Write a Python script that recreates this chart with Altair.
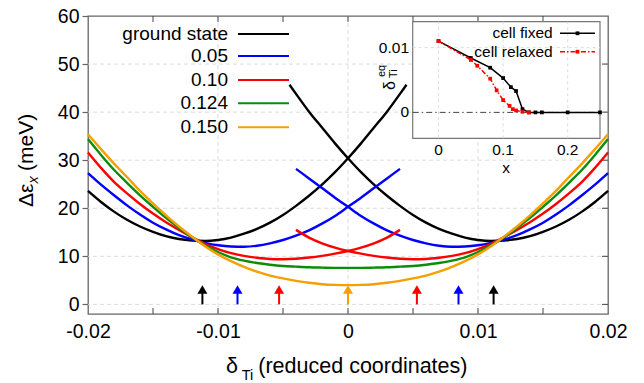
import altair as alt
import pandas as pd

FONT = "Liberation Sans"

# ---------------- main panel data ----------------
xL = [-0.020, -0.019, -0.018, -0.017, -0.016, -0.015, -0.014, -0.013, -0.012, -0.011,
      -0.010, -0.009, -0.008, -0.007, -0.006, -0.005, -0.004, -0.003, -0.002, -0.001,
      0.000, 0.001, 0.002, 0.003, 0.004]
xR = [-0.004, -0.003, -0.002, -0.001, 0.000, 0.001, 0.002, 0.003, 0.004, 0.005,
      0.006, 0.007, 0.008, 0.009, 0.010, 0.011, 0.012, 0.013, 0.014, 0.015,
      0.016, 0.017, 0.018, 0.019, 0.020]
xFull = [-0.020, -0.019, -0.018, -0.017, -0.016, -0.015, -0.014, -0.013, -0.012, -0.011,
         -0.010, -0.009, -0.008, -0.007, -0.006, -0.005, -0.004, -0.003, -0.002, -0.001,
         0.000, 0.001, 0.002, 0.003, 0.004, 0.005, 0.006, 0.007, 0.008, 0.009, 0.010,
         0.011, 0.012, 0.013, 0.014, 0.015, 0.016, 0.017, 0.018, 0.019, 0.020]

black_L_x = xL + [0.0045]
black_L_y = [23.6, 21.3, 19.3, 17.6, 16.2, 15.1, 14.2, 13.6, 13.3, 13.2, 13.4, 13.9, 14.7,
             15.7, 17.0, 18.6, 20.5, 22.6, 24.9, 27.5, 30.4, 33.5, 36.8, 40.1, 43.8, 45.7]
black_R_x = [-0.0045] + xR
black_R_y = [45.7, 43.8, 40.1, 36.8, 33.5, 30.4, 27.5, 24.9, 22.6, 20.5, 18.6, 17.0, 15.7,
             14.7, 13.9, 13.4, 13.2, 13.3, 13.6, 14.2, 15.1, 16.2, 17.6, 19.3, 21.3, 23.6]

blue_L_y = [27.3, 24.9, 22.7, 20.6, 18.7, 17.0, 15.6, 14.4, 13.5, 12.8, 12.3, 12.05, 12.0,
            12.2, 12.7, 13.4, 14.3, 15.4, 16.8, 18.4, 20.3, 22.2, 24.2, 26.2, 28.2]
blue_R_y = [28.2, 26.2, 24.2, 22.2, 20.3, 18.4, 16.8, 15.4, 14.3, 13.4, 12.7, 12.2, 12.0,
            12.05, 12.3, 12.8, 13.5, 14.4, 15.6, 17.0, 18.7, 20.6, 22.7, 24.9, 27.3]

red_L_y = [31.6, 28.4, 25.5, 23.1, 20.9, 18.9, 17.1, 15.5, 14.0, 12.6, 11.5, 10.65, 10.1,
           9.7, 9.45, 9.4, 9.5, 9.75, 10.1, 10.55, 11.1, 11.8, 12.7, 13.9, 15.5]
red_R_y = [15.5, 13.9, 12.7, 11.8, 11.1, 10.55, 10.1, 9.75, 9.5, 9.4, 9.45, 9.7, 10.1,
           10.65, 11.5, 12.6, 14.0, 15.5, 17.1, 18.9, 20.9, 23.1, 25.5, 28.4, 31.6]

green_y = [34.4, 31.1, 28.0, 25.3, 22.7, 20.3, 18.0, 15.9, 13.9, 12.3, 10.9, 9.8, 9.1, 8.6,
           8.25, 8.0, 7.85, 7.72, 7.65, 7.6, 7.6, 7.6, 7.65, 7.72, 7.85, 8.0, 8.25, 8.6, 9.1,
           9.8, 10.9, 12.3, 13.9, 15.9, 18.0, 20.3, 22.7, 25.3, 28.0, 31.1, 34.4]

orange_y = [35.4, 32.3, 29.3, 26.5, 23.6, 21.0, 18.5, 16.2, 14.1, 12.1, 10.4, 9.0, 7.8, 6.8,
            6.0, 5.4, 4.9, 4.5, 4.2, 4.05, 4.0, 4.05, 4.2, 4.5, 4.9, 5.4, 6.0, 6.8, 7.8, 9.0,
            10.4, 12.1, 14.1, 16.2, 18.5, 21.0, 23.6, 26.5, 29.3, 32.3, 35.4]

legend_labels = ["ground state", "0.05", "0.10", "0.124", "0.150"]
BLACK, BLUE, RED, GREEN, ORANGE = "#000000", "#0000ff", "#ff0000", "#0b8c0b", "#f5a000"
legend_colors = [BLACK, BLUE, RED, GREEN, ORANGE]

arrow_x = [-0.0112, -0.0085, -0.0053, 0.0, 0.0053, 0.0085, 0.0112]
arrow_c = [BLACK, BLUE, RED, ORANGE, RED, BLUE, BLACK]
arrow_top = 3.0
arrow_head = 3.1

x_ticks = [-0.02, -0.01, 0, 0.01, 0.02]
x_minor = [-0.015, -0.01, -0.005, 0, 0.005, 0.01, 0.015]
x_grid = [-0.01, 0, 0.01]
y_ticks = [0, 10, 20, 30, 40, 50, 60]
y_grid = [0, 10, 20, 30, 40, 50]

# ---------------- inset data ----------------
fixed_x = [0.0, 0.05, 0.08, 0.10, 0.112, 0.12, 0.13, 0.14, 0.15, 0.16, 0.20, 0.25]
fixed_y = [0.0110, 0.0084, 0.0069, 0.0053, 0.0039, 0.0033, 0.0005, 0.0, 0.0, 0.0, 0.0, 0.0]
relax_x = [0.0, 0.05, 0.06, 0.08, 0.09, 0.10, 0.11, 0.115, 0.12, 0.13, 0.14]
relax_y = [0.0110, 0.0081, 0.0072, 0.0052, 0.0034, 0.0019, 0.0010, 0.0005, 0.0003, 0.0001, 0.0]
inset_xticks = [0.0, 0.1, 0.2]
inset_xlabels = ["0", "0.1", "0.2"]
inset_yticks = [0.0, 0.01]
inset_ylabels = ["0", "0.01"]
inset_legend = ["cell fixed", "cell relaxed"]

# ---------------- scales & axes ----------------
XS = alt.Scale(domain=[-0.02, 0.02], nice=False, zero=False)
YS = alt.Scale(domain=[-2, 60], nice=False, zero=False)
XAX = alt.Axis(values=x_ticks, grid=False, ticks=False, domain=False, labelFlush=False,
               labelOverlap=False, labelPadding=8, labelFont=FONT, labelFontSize=19.5,
               labelColor="black", title=None,
               labelExpr="datum.value == 0 ? '0' : replace(format(datum.value, '.2f'), '\u2212', '-')")
YAX = alt.Axis(values=y_ticks, grid=False, domain=False, ticks=True, tickSize=6,
               tickColor="#666", tickWidth=1.2, labelPadding=3, labelFont=FONT,
               labelFontSize=19.5, labelColor="black", title=None)


def mx(f):
    return alt.X(f, type="quantitative", scale=XS, axis=XAX)


def my(f):
    return alt.Y(f, type="quantitative", scale=YS, axis=YAX)


IXS = alt.Scale(domain=[-0.04, 0.25], range=[324.7, 512], nice=False, zero=False)
IYS = alt.Scale(domain=[-0.004, 0.014], range=[122.3, 5.7], nice=False, zero=False)


def ix(f):
    return alt.X(f, type="quantitative", scale=IXS, axis=None)


def iy(f):
    return alt.Y(f, type="quantitative", scale=IYS, axis=None)


def txt(label, x, y, size, align="left", baseline="middle", angle=0, style="normal", color="black"):
    return alt.Chart(pd.DataFrame({"t": [label]})).mark_text(
        font=FONT, fontSize=size, align=align, baseline=baseline, angle=angle,
        fontStyle=style, color=color
    ).encode(text="t:N", x=alt.value(x), y=alt.value(y))


# ---------------- main layers ----------------
main = []
main.append(alt.Chart(pd.DataFrame({"v": x_grid})).mark_rule(
    color="#dcdcdc", strokeDash=[4, 3], strokeWidth=1).encode(x=mx("v")))
main.append(alt.Chart(pd.DataFrame({"v": y_grid})).mark_rule(
    color="#dcdcdc", strokeDash=[4, 3], strokeWidth=1).encode(y=my("v")))
# inward ticks bottom / top / right
main.append(alt.Chart(pd.DataFrame({"v": x_minor})).mark_rule(color="#444", strokeWidth=1).encode(
    x=mx("v"), y=alt.value(298), y2=alt.value(292)))
main.append(alt.Chart(pd.DataFrame({"v": x_minor})).mark_rule(color="#444", strokeWidth=1).encode(
    x=mx("v"), y=alt.value(0), y2=alt.value(6)))
main.append(alt.Chart(pd.DataFrame({"v": y_grid})).mark_rule(color="#444", strokeWidth=1).encode(
    y=my("v"), x=alt.value(520), x2=alt.value(514)))

curves = [
    (black_L_x, black_L_y, BLACK), (black_R_x, black_R_y, BLACK),
    (xL, blue_L_y, BLUE), (xR, blue_R_y, BLUE),
    (xL, red_L_y, RED), (xR, red_R_y, RED),
    (xFull, green_y, GREEN),
    (xFull, orange_y, ORANGE),
]
for xs, ys, c in curves:
    main.append(alt.Chart(pd.DataFrame({"x": xs, "y": ys})).mark_line(
        color=c, strokeWidth=2.4, interpolate="monotone").encode(x=mx("x"), y=my("y")))

arr = pd.DataFrame({"x": arrow_x, "c": arrow_c, "lo": [0] * len(arrow_x),
                    "hi": [arrow_top] * len(arrow_x), "h": [arrow_head] * len(arrow_x)})
main.append(alt.Chart(arr).mark_rule(strokeWidth=2).encode(
    x=mx("x"), y=my("lo"), y2="hi", color=alt.Color("c:N", scale=None)))
main.append(alt.Chart(arr).mark_point(shape="triangle-up", filled=True, size=100, opacity=1).encode(
    x=mx("x"), y=my("h"), color=alt.Color("c:N", scale=None)))

# legend (manual, labels left of lines)
leg_y = [18, 40, 64, 87.3, 111.3]
for lab, c, yy in zip(legend_labels, legend_colors, leg_y):
    main.append(txt(lab, 140, yy, 19, align="right"))
    main.append(alt.Chart(pd.DataFrame({"t": [lab]})).mark_rule(color=c, strokeWidth=2).encode(
        x=alt.value(150), x2=alt.value(201), y=alt.value(yy)))

# axis titles
main.append(txt("\u03b4", 138, 357, 21.5, baseline="alphabetic"))
main.append(txt("Ti", 153.7, 364, 14.5, baseline="alphabetic"))
main.append(txt("(reduced coordinates)", 170.3, 357, 21.5, baseline="alphabetic"))
main.append(txt("\u0394\u03b5", -55, 191, 21, baseline="alphabetic", angle=270))
main.append(txt("x", -50.5, 167.5, 14.5, baseline="alphabetic", angle=270, style="italic"))
main.append(txt("(meV)", -55, 155, 21, baseline="alphabetic", angle=270))

main_layer = alt.layer(*main)

# ---------------- inset layers ----------------
ins = []
ins.append(alt.Chart(pd.DataFrame({"a": [-0.04], "b": [0.25], "lo": [-0.004], "hi": [0.014]})).mark_rect(
    fill="white", stroke="#777", strokeWidth=1.2).encode(x=ix("a"), x2="b", y=iy("lo"), y2="hi"))
ins.append(alt.Chart(pd.DataFrame({"v": inset_xticks, "lo": [-0.004] * 3, "hi": [0.014] * 3})).mark_rule(
    color="#dcdcdc", strokeDash=[3, 3], strokeWidth=1).encode(x=ix("v"), y=iy("lo"), y2="hi"))
ins.append(alt.Chart(pd.DataFrame({"v": [0.01], "a": [-0.04], "b": [0.25]})).mark_rule(
    color="#dcdcdc", strokeDash=[3, 3], strokeWidth=1).encode(y=iy("v"), x=ix("a"), x2="b"))
ins.append(alt.Chart(pd.DataFrame({"v": [0.0], "a": [-0.04], "b": [0.25]})).mark_rule(
    color="#444", strokeDash=[6, 3, 1.5, 3], strokeWidth=1).encode(y=iy("v"), x=ix("a"), x2="b"))
ins.append(alt.Chart(pd.DataFrame({"x": fixed_x, "y": fixed_y})).mark_line(
    color="black", strokeWidth=1.5,
    point=alt.OverlayMarkDef(shape="square", size=14, filled=True, color="black", opacity=1)
).encode(x=ix("x"), y=iy("y")))
ins.append(alt.Chart(pd.DataFrame({"x": relax_x, "y": relax_y})).mark_line(
    color="#ff0000", strokeWidth=1.5, strokeDash=[5, 2, 1.5, 2],
    point=alt.OverlayMarkDef(shape="square", size=14, filled=True, color="#ff0000", opacity=1)
).encode(x=ix("x"), y=iy("y")))
ins.append(alt.Chart(pd.DataFrame({"v": inset_xticks, "t": inset_xlabels})).mark_text(
    font=FONT, fontSize=15.5, align="center", baseline="middle", color="black").encode(
    x=ix("v"), y=alt.value(134), text="t:N"))
ins.append(alt.Chart(pd.DataFrame({"v": inset_yticks, "t": inset_ylabels})).mark_text(
    font=FONT, fontSize=15.5, align="right", baseline="middle", color="black").encode(
    y=iy("v"), x=alt.value(321), text="t:N"))
ins.append(txt("x", 418, 152, 15.5, align="center"))
ins.append(txt("\u03b4", 307, 74, 16, baseline="alphabetic", angle=270))
ins.append(txt("eq", 297, 61, 11, baseline="alphabetic", angle=270))
ins.append(txt("Ti", 309, 62, 11, baseline="alphabetic", angle=270))
# inset legend
ins_leg_y = [17.3, 35.7]
ins.append(txt(inset_legend[0], 464.7, ins_leg_y[0], 15.5, align="right"))
ins.append(txt(inset_legend[1], 464.7, ins_leg_y[1], 15.5, align="right"))
ins.append(alt.Chart(pd.DataFrame({"t": [inset_legend[0]]})).mark_rule(color="black", strokeWidth=1.5).encode(
    x=alt.value(472), x2=alt.value(507), y=alt.value(ins_leg_y[0])))
ins.append(alt.Chart(pd.DataFrame({"t": [inset_legend[1]]})).mark_rule(
    color="#ff0000", strokeWidth=1.5, strokeDash=[5, 2, 1.5, 2]).encode(
    x=alt.value(472), x2=alt.value(507), y=alt.value(ins_leg_y[1])))
ins.append(alt.Chart(pd.DataFrame({"t": inset_legend, "c": ["black", "#ff0000"], "yy": ins_leg_y})).mark_point(
    shape="square", size=14, filled=True, opacity=1).encode(
    x=alt.value(489.5), y=alt.Y("yy:Q", scale=None, axis=None), color=alt.Color("c:N", scale=None)))

inset_layer = alt.layer(*ins)

chart = alt.layer(main_layer, inset_layer).resolve_scale(
    x="independent", y="independent", color="independent"
).properties(
    width=520, height=298,
    autosize=alt.AutoSizeParams(type="none"),
    padding={"left": 80, "top": 8, "right": 28, "bottom": 69},
).configure_view(stroke="#666", strokeWidth=1.3)

chart.save("out.html", embed_options={"renderer": "svg", "actions": False})
